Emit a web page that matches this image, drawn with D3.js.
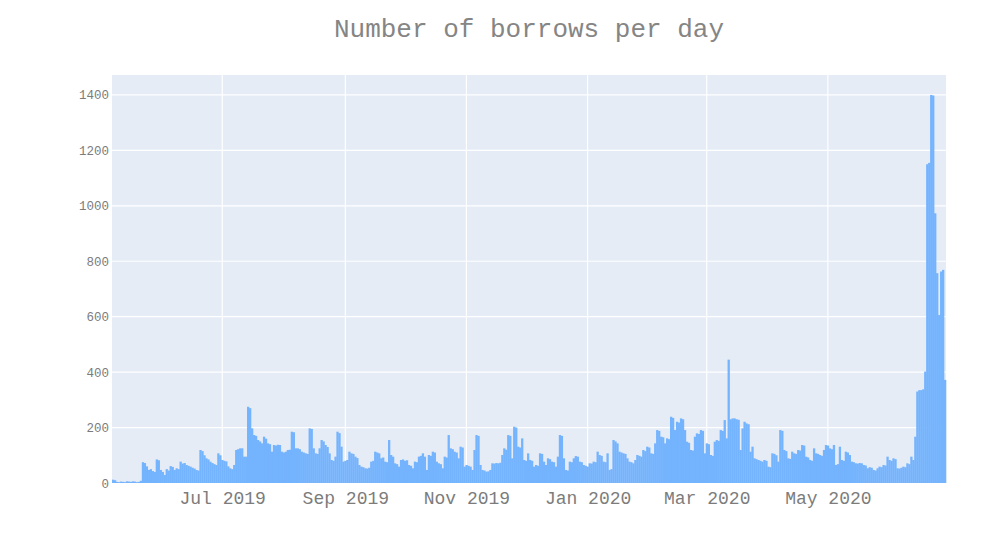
<!DOCTYPE html>
<html>
<head>
<meta charset="utf-8">
<script src="https://cdn.jsdelivr.net/npm/d3@7"></script>
<style>
  html, body { margin: 0; padding: 0; background: #ffffff; }
  svg { display: block; }
</style>
</head>
<body>
<svg id="chart" width="1000" height="536"></svg>
<script>
// ---- data ----
const chartTitle = "Number of borrows per day";
const startDate = "2019-05-07";   // first day of the series (one value per day)
const borrows = [
  12, 10, 4, 3, 5, 4, 3, 6, 5, 4,
  6, 5, 3, 4, 8, 75, 72, 60, 47, 50,
  43, 40, 85, 82, 47, 40, 29, 50, 45, 61,
  58, 47, 53, 50, 77, 70, 72, 65, 62, 59,
  55, 52, 47, 45, 119, 115, 100, 89, 85, 77,
  72, 68, 65, 107, 100, 83, 80, 78, 60, 53,
  50, 65, 119, 122, 125, 125, 95, 95, 275, 270,
  197, 173, 170, 155, 150, 143, 167, 160, 143, 140,
  113, 137, 135, 138, 137, 113, 110, 113, 119, 120,
  185, 183, 125, 125, 122, 113, 110, 107, 105, 197,
  195, 125, 107, 105, 125, 155, 150, 137, 130, 107,
  83, 80, 95, 185, 180, 131, 77, 80, 83, 113,
  107, 105, 95, 90, 65, 59, 57, 53, 52, 55,
  77, 80, 113, 110, 107, 89, 92, 77, 75, 155,
  101, 95, 71, 68, 59, 83, 85, 80, 82, 65,
  62, 53, 77, 75, 95, 98, 107, 95, 47, 101,
  98, 113, 110, 77, 71, 68, 53, 95, 92, 173,
  125, 122, 113, 110, 89, 131, 128, 59, 65, 62,
  59, 47, 119, 173, 170, 65, 47, 45, 41, 42,
  47, 71, 70, 72, 71, 73, 101, 125, 120, 173,
  170, 89, 203, 200, 131, 128, 161, 83, 80, 107,
  83, 80, 59, 65, 62, 107, 105, 77, 65, 89,
  86, 77, 75, 59, 95, 173, 170, 89, 47, 45,
  77, 75, 89, 97, 95, 77, 75, 65, 62, 59,
  71, 70, 77, 75, 113, 101, 98, 77, 75, 107,
  47, 50, 155, 150, 143, 113, 110, 107, 105, 89,
  77, 75, 71, 83, 101, 98, 95, 119, 115, 131,
  128, 107, 105, 143, 191, 188, 167, 165, 143, 161,
  158, 239, 235, 191, 221, 218, 233, 230, 191, 149,
  145, 119, 117, 167, 179, 177, 191, 188, 107, 143,
  140, 101, 98, 149, 155, 152, 191, 188, 227, 161,
  445, 230, 233, 233, 230, 228, 119, 197, 221, 215,
  212, 113, 131, 89, 86, 83, 80, 77, 83, 80,
  59, 57, 107, 105, 100, 77, 191, 188, 119, 115,
  89, 87, 113, 107, 105, 119, 117, 137, 135, 95,
  92, 83, 80, 125, 107, 105, 101, 98, 119, 137,
  135, 125, 122, 137, 65, 68, 131, 83, 80, 113,
  110, 101, 77, 75, 71, 70, 72, 71, 65, 63,
  53, 57, 55, 47, 45, 53, 59, 57, 65, 63,
  95, 83, 80, 89, 86, 53, 52, 55, 59, 57,
  71, 68, 95, 83, 167, 330, 335, 335, 338, 402,
  1150, 1155, 1400, 1398, 973, 757, 606, 763, 769, 372
];
const yTickValues = [0, 200, 400, 600, 800, 1000, 1200, 1400];
const xTickDates = ["2019-07-01", "2019-09-01", "2019-11-01", "2020-01-01", "2020-03-01", "2020-05-01"];
const xTickLabels = ["Jul 2019", "Sep 2019", "Nov 2019", "Jan 2020", "Mar 2020", "May 2020"];
const yMax = 1472;

// ---- layout ----
const W = 1000, H = 536;
const plot = { left: 112, right: 946, top: 75, bottom: 483 };
const FONT = "'Courier New', 'Liberation Mono', 'DejaVu Sans Mono', monospace";

const parse = d3.utcParse("%Y-%m-%d");
const t0 = parse(startDate);
const data = borrows.map((v, i) => ({ date: d3.utcDay.offset(t0, i), value: v }));
const halfDay = 12 * 3600 * 1000;

const x = d3.scaleUtc()
  .domain([new Date(+data[0].date - halfDay), new Date(+data[data.length - 1].date + halfDay)])
  .range([plot.left, plot.right]);
const y = d3.scaleLinear().domain([0, yMax]).range([plot.bottom, plot.top]);

const svg = d3.select("#chart");

// plot background
svg.append("rect")
  .attr("x", plot.left).attr("y", plot.top)
  .attr("width", plot.right - plot.left).attr("height", plot.bottom - plot.top)
  .attr("fill", "#e5ecf6");

// gridlines
const tickDates = xTickDates.map(parse);
svg.append("g").selectAll("line.vx").data(tickDates).join("line")
  .attr("x1", d => x(d)).attr("x2", d => x(d))
  .attr("y1", plot.top).attr("y2", plot.bottom)
  .attr("stroke", "#ffffff").attr("stroke-width", 1.2);
svg.append("g").selectAll("line.hy").data(yTickValues.filter(v => v > 0)).join("line")
  .attr("x1", plot.left).attr("x2", plot.right)
  .attr("y1", d => y(d)).attr("y2", d => y(d))
  .attr("stroke", "#ffffff").attr("stroke-width", 1.2);

// bars
const dayW = x(d3.utcDay.offset(t0, 1)) - x(t0);
svg.append("g").selectAll("rect").data(data).join("rect")
  .attr("x", d => x(d.date) - dayW / 2)
  .attr("width", dayW + 0.3)
  .attr("y", d => y(d.value))
  .attr("height", d => y(0) - y(d.value))
  .attr("fill", "#74b3fd");

// axes (labels only, like plotly)
const xAxis = d3.axisBottom(x)
  .tickValues(tickDates)
  .tickFormat((d, i) => xTickLabels[i])
  .tickSize(0).tickPadding(8);
const gx = svg.append("g").attr("transform", `translate(0,${plot.bottom})`).call(xAxis);
gx.select(".domain").remove();
gx.selectAll("text")
  .attr("font-family", FONT).attr("font-size", 18).attr("fill", "#7c7c7c")
  .attr("dy", "0.71em");

const yAxis = d3.axisLeft(y).tickValues(yTickValues).tickSize(0).tickPadding(3)
  .tickFormat(d3.format("d"));
const gy = svg.append("g").attr("transform", `translate(${plot.left},0)`).call(yAxis);
gy.select(".domain").remove();
gy.selectAll("text")
  .attr("font-family", FONT).attr("font-size", 12.5).attr("fill", "#7c7c7c");

// title
svg.append("text")
  .attr("x", (plot.left + plot.right) / 2).attr("y", 37)
  .attr("text-anchor", "middle")
  .attr("font-family", FONT).attr("font-size", 26).attr("fill", "#858585")
  .text(chartTitle);
</script>
</body>
</html>
